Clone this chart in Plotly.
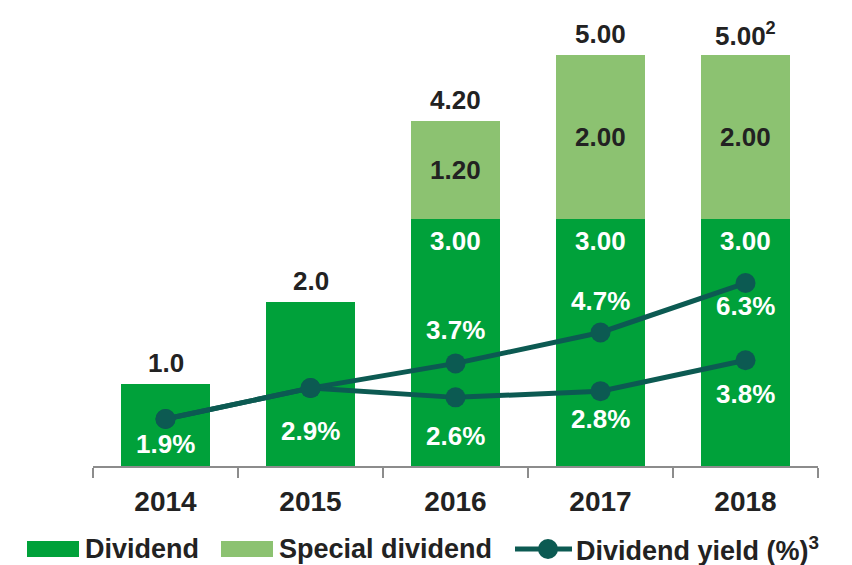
import plotly.graph_objects as go

# ---- data ----
years = ["2014", "2015", "2016", "2017", "2018"]
dividend = [1.0, 2.0, 3.00, 3.00, 3.00]
special = [None, None, 1.20, 2.00, 2.00]
total_labels = ["1.0", "2.0", "4.20", "5.00", "5.00<sup>2</sup>"]
dividend_inner_labels = [None, None, "3.00", "3.00", "3.00"]
special_labels = [None, None, "1.20", "2.00", "2.00"]
yield_high = [1.9, 2.9, 3.7, 4.7, 6.3]
yield_low = [1.9, 2.9, 2.6, 2.8, 3.8]
yield_high_labels = ["1.9%", "2.9%", "3.7%", "4.7%", "6.3%"]
yield_low_labels = [None, None, "2.6%", "2.8%", "3.8%"]

# ---- styles / positions ----
C_DIV = "#00A13A"
C_SPEC = "#8CC271"
C_LINE = "#0C5A52"
C_TEXT = "#222222"
FONT = "Liberation Sans, Arial, sans-serif"
OFF = 8  # page body margin
W, H = 852 - OFF, 565 - OFF
ML, MT = 93 - OFF, 20 - OFF
MR = W - (818 - OFF)
MB = H - (466 - OFF)
PW, PH = W - ML - MR, H - MT - MB
high_shift = [-25, -43, 33, 31, -23]
low_shift = [None, None, -39, -28, -34]

def px_x(x):
    return (x - OFF - ML) / PW

def px_y(y):
    return (H - MB - (y - OFF)) / PH

fig = go.Figure()
fig.add_trace(go.Bar(x=years, y=dividend, name="Dividend", marker_color=C_DIV,
                     marker_line_width=0, width=0.615))
fig.add_trace(go.Bar(x=years, y=special, name="Special dividend", marker_color=C_SPEC,
                     marker_line_width=0, width=0.615))
fig.add_trace(go.Scatter(x=years, y=yield_low, yaxis="y2", mode="lines+markers",
                         line=dict(color=C_LINE, width=5),
                         marker=dict(color=C_LINE, size=20), name="low"))
fig.add_trace(go.Scatter(x=years, y=yield_high, yaxis="y2", mode="lines+markers",
                         line=dict(color=C_LINE, width=5),
                         marker=dict(color=C_LINE, size=20), name="Dividend yield (%)"))

def f(size, color):
    return dict(size=size, color=color, family=FONT, weight="bold")

ann = []
for i, yr in enumerate(years):
    tot = (dividend[i] or 0) + (special[i] or 0)
    ann.append(dict(x=i, xref="x", y=tot, yref="y", text=total_labels[i], showarrow=False,
                    yshift=21, font=f(26, C_TEXT)))
    if dividend_inner_labels[i]:
        ann.append(dict(x=i, xref="x", y=dividend[i], yref="y", text=dividend_inner_labels[i],
                        showarrow=False, yshift=-22, font=f(26, "white")))
    if special_labels[i]:
        ann.append(dict(x=i, xref="x", y=dividend[i] + special[i] / 2, yref="y",
                        text=special_labels[i], showarrow=False, font=f(26, C_TEXT)))
    ann.append(dict(x=i, xref="x", y=yield_high[i], yref="y2", text=yield_high_labels[i],
                    showarrow=False, yshift=high_shift[i], font=f(26, "white")))
    if yield_low_labels[i]:
        ann.append(dict(x=i, xref="x", y=yield_low[i], yref="y2", text=yield_low_labels[i],
                        showarrow=False, yshift=low_shift[i], font=f(26, "white")))

# custom legend
shapes = []
ly = 549
shapes.append(dict(type="rect", xref="paper", yref="paper", x0=px_x(27), x1=px_x(79),
                   y0=px_y(ly - 8), y1=px_y(ly + 8), fillcolor=C_DIV, line_width=0))
shapes.append(dict(type="rect", xref="paper", yref="paper", x0=px_x(221), x1=px_x(273),
                   y0=px_y(ly - 8), y1=px_y(ly + 8), fillcolor=C_SPEC, line_width=0))
shapes.append(dict(type="line", xref="paper", yref="paper", x0=px_x(515), x1=px_x(572),
                   y0=px_y(ly), y1=px_y(ly), line=dict(color=C_LINE, width=5)))
shapes.append(dict(type="circle", xref="paper", yref="paper", x0=px_x(538), x1=px_x(558),
                   y0=px_y(ly - 10), y1=px_y(ly + 10), fillcolor=C_LINE, line_width=0))
for tx, txt in [(83, "Dividend"), (277, "Special dividend"), (574, "Dividend yield (%)<sup>3</sup>")]:
    ann.append(dict(xref="paper", yref="paper", x=px_x(tx), y=px_y(ly), text=txt,
                    xanchor="left", yanchor="middle", showarrow=False, font=f(27, C_TEXT)))

fig.update_layout(
    width=W, height=H, margin=dict(l=ML, r=MR, t=MT, b=MB),
    barmode="stack", showlegend=False,
    plot_bgcolor="white", paper_bgcolor="white",
    xaxis=dict(type="category", showline=True, linecolor="#8C8C8C", linewidth=2,
               ticks="outside", tickson="boundaries", ticklen=10, tickcolor="#8C8C8C",
               tickwidth=2, ticklabelstandoff=9, tickfont=f(28, C_TEXT),
               showgrid=False, range=[-0.5, 4.5]),
    yaxis=dict(visible=False, range=[0, PH / 82.2], showgrid=False),
    yaxis2=dict(visible=False, overlaying="y", range=[0.379, 0.379 + PH / 30.9], showgrid=False),
    annotations=ann, shapes=shapes,
)

fig.write_html("out.html")
